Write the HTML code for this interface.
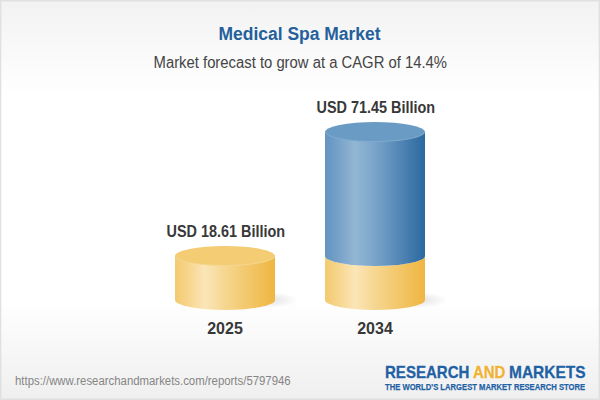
<!DOCTYPE html>
<html><head><meta charset="utf-8">
<style>
html,body{margin:0;padding:0;width:600px;height:400px;overflow:hidden;}
body{font-family:"Liberation Sans",sans-serif;position:relative;
background:linear-gradient(to bottom,#f2f2f2 0px,#ffffff 95px,#ffffff 300px,#efefef 400px);}
.frame{position:absolute;left:0;top:0;width:598px;height:398px;border:1px solid #e0e0e0;box-shadow:inset 0 0 0 1px rgba(0,0,0,0.03);}
.t{position:absolute;white-space:nowrap;line-height:1;}
.t span{display:inline-block;transform-origin:50% 50%;}
#title{left:0;width:600px;text-align:center;top:25px;font-size:18px;font-weight:bold;color:#23609c;}
#title span{transform:scaleX(0.97);}
#sub{left:0;width:600px;text-align:center;top:55px;font-size:16px;color:#444;}
#sub span{transform:scaleX(0.927);}
.val{font-size:16px;font-weight:bold;color:#383838;text-align:center;width:200px;}
.val span{transform:scaleX(0.90);}
.yr{font-size:16px;font-weight:bold;color:#383838;text-align:center;width:100px;}
#url{left:15px;top:375px;font-size:12.5px;color:#858585;}
#url span{transform-origin:0 50%;transform:scaleX(0.91);}
.lg{font-size:17px;font-weight:bold;color:#1f61a3;-webkit-text-stroke:0.35px currentColor;text-shadow:0 0 2px #fff,0 0 2px #fff;}
.lg span{transform-origin:0 50%;}
#logo2{left:385px;top:383px;font-size:8.5px;font-weight:bold;color:#1f61a3;-webkit-text-stroke:0.25px currentColor;transform-origin:0 0;transform:scaleX(0.9);text-shadow:0 0 2px #fff,0 0 2px #fff;}
svg{position:absolute;left:0;top:0;}
</style></head><body>
<div class="frame"></div>
<svg width="600" height="400" viewBox="0 0 600 400">
<defs>
<linearGradient id="gy" x1="0" x2="1" y1="0" y2="0">
<stop offset="0" stop-color="#f3ca6e"/>
<stop offset="0.12" stop-color="#f6d48a"/>
<stop offset="0.30" stop-color="#fbe5b8"/>
<stop offset="0.5" stop-color="#f6d690"/>
<stop offset="1" stop-color="#efb640"/>
</linearGradient>
<linearGradient id="gb" x1="0" x2="1" y1="0" y2="0">
<stop offset="0" stop-color="#6393bf"/>
<stop offset="0.12" stop-color="#74a0c8"/>
<stop offset="0.30" stop-color="#93b6d4"/>
<stop offset="0.5" stop-color="#79a4ca"/>
<stop offset="1" stop-color="#2b68a0"/>
</linearGradient>
<radialGradient id="sh" cx="0.5" cy="0.5" r="0.5">
<stop offset="0" stop-color="#000" stop-opacity="0.12"/>
<stop offset="1" stop-color="#000" stop-opacity="0"/>
</radialGradient>
</defs>
<!-- shadows -->
<ellipse cx="268" cy="300" rx="30" ry="8" fill="url(#sh)"/>
<ellipse cx="418" cy="300" rx="30" ry="8" fill="url(#sh)"/>
<!-- small cylinder -->
<path d="M175 256 L175 300 A50 10 0 0 0 275 300 L275 256 Z" fill="url(#gy)"/>
<ellipse cx="225" cy="256" rx="50" ry="10" fill="#f3cc74"/>
<path d="M175.5 256 A49.5 9.5 0 0 0 274.5 256" fill="none" stroke="#fff" stroke-opacity="0.2" stroke-width="1"/>
<!-- big cylinder -->
<path d="M325 256 L325 300 A50 10 0 0 0 425 300 L425 256 A50 10 0 0 1 325 256 Z" fill="url(#gy)"/>
<path d="M325 132 L325 256 A50 10 0 0 0 425 256 L425 132 Z" fill="url(#gb)"/>
<ellipse cx="375" cy="132" rx="50" ry="10" fill="#6a9bc4"/>
<path d="M325.5 132 A49.5 9.5 0 0 0 424.5 132" fill="none" stroke="#fff" stroke-opacity="0.15" stroke-width="1"/>
</svg>
<div id="title" class="t m"><span>Medical Spa Market</span></div>
<div id="sub" class="t m"><span>Market forecast to grow at a CAGR of 14.4%</span></div>
<div class="t val m" style="left:126px;top:224px;"><span>USD 18.61 Billion</span></div>
<div class="t val m" style="left:276px;top:100px;"><span>USD 71.45 Billion</span></div>
<div class="t yr m" style="left:175px;top:321px;">2025</div>
<div class="t yr m" style="left:325px;top:321px;">2034</div>
<div id="url" class="t m"><span>https://www.researchandmarkets.com/reports/5797946</span></div>
<div class="t lg" style="left:385px;top:364px;"><span style="transform:scaleX(0.885)">RESEARCH</span></div>
<div class="t lg" style="left:473px;top:364px;color:#efb235;"><span style="transform:scaleX(0.88)">AND</span></div>
<div class="t lg" style="left:509px;top:364px;"><span style="transform:scaleX(0.91)">MARKETS</span></div>
<div id="logo2" class="t m">THE WORLD'S LARGEST MARKET RESEARCH STORE</div>
</body></html>
